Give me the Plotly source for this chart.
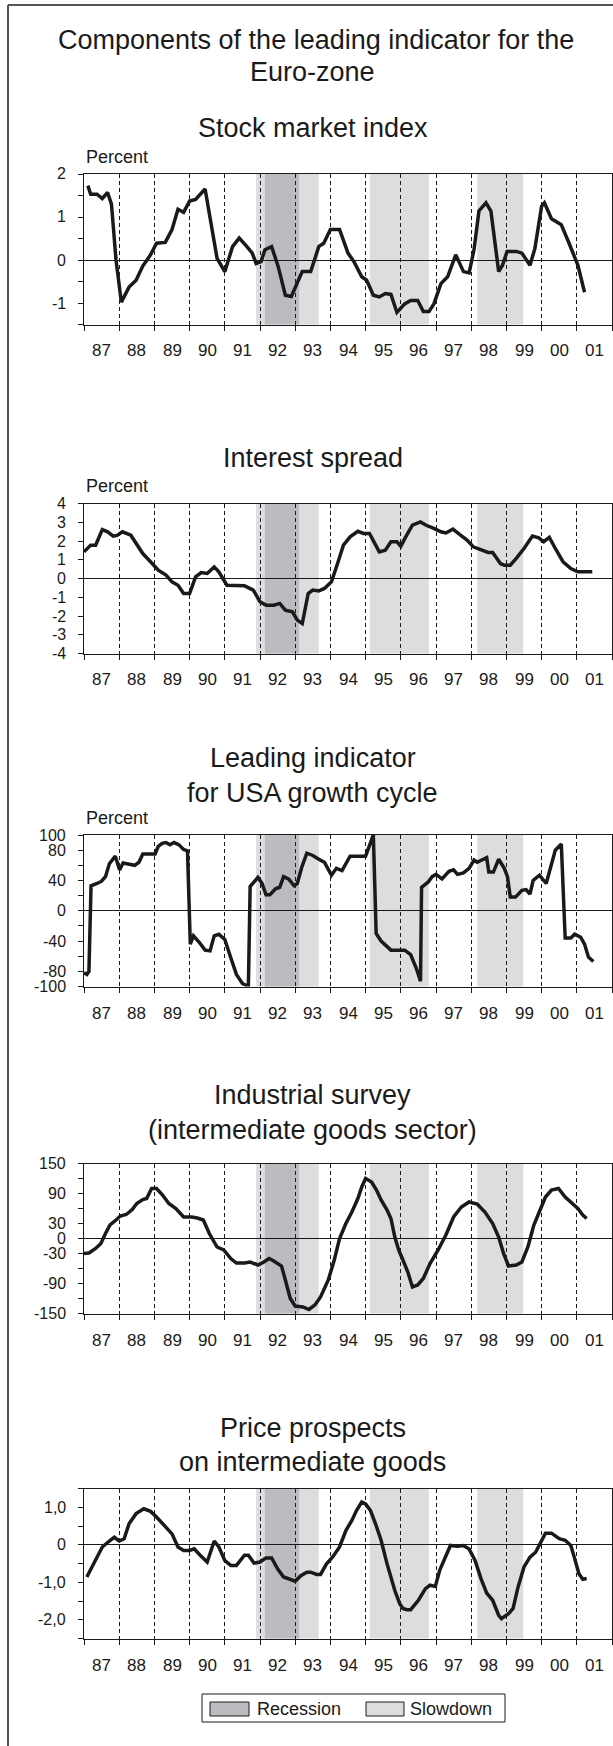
import plotly.graph_objects as go

# ── Page geometry / palette ────────────────────────────────────────────────
W, H = 613, 1746
FONT = "Liberation Sans, Arial, sans-serif"
INK = "#1a1a1a"
FRAME = "#555555"
RECESSION_FILL = "#bbbcbf"
SLOWDOWN_FILL = "#dcdddf"

# ── Data ───────────────────────────────────────────────────────────────────
YEARS = list(range(1987, 2003))
YEAR_MIDS = [y + 0.5 for y in range(1987, 2002)]
YEAR_LABELS = ["87", "88", "89", "90", "91", "92", "93", "94", "95", "96",
               "97", "98", "99", "00", "01"]

SLOWDOWNS = [(1991.89, 1993.67), (1995.12, 1996.8), (1998.17, 1999.48)]
RECESSIONS = [(1992.14, 1993.11)]

stock_x = [1987.11, 1987.19, 1987.37, 1987.52, 1987.67, 1987.78, 1987.91, 1988.06,
           1988.28, 1988.48, 1988.67, 1988.89, 1989.06, 1989.31, 1989.5, 1989.67,
           1989.83, 1990.0, 1990.17, 1990.44, 1990.78, 1991.0, 1991.22, 1991.41,
           1991.61, 1991.78, 1991.89, 1992.03, 1992.14, 1992.33, 1992.52, 1992.72,
           1992.89, 1993.06, 1993.2, 1993.44, 1993.67, 1993.81, 1994.0, 1994.26,
           1994.5, 1994.67, 1994.89, 1995.03, 1995.22, 1995.39, 1995.56, 1995.72,
           1995.89, 1996.11, 1996.28, 1996.48, 1996.64, 1996.8, 1996.94, 1997.14,
           1997.33, 1997.56, 1997.78, 1997.94, 1998.08, 1998.22, 1998.42, 1998.56,
           1998.78, 1998.89, 1999.02, 1999.28, 1999.44, 1999.67, 1999.81, 2000.0,
           2000.08, 2000.28, 2000.56, 2000.78, 2001.03, 2001.22]
stock_y = [1.73, 1.53, 1.53, 1.43, 1.57, 1.3, 0.0, -0.98, -0.63, -0.47,
           -0.14, 0.12, 0.39, 0.41, 0.71, 1.18, 1.11, 1.37, 1.41, 1.65,
           0.04, -0.27, 0.31, 0.51, 0.33, 0.16, -0.08, -0.04, 0.24, 0.31,
           -0.16, -0.82, -0.85, -0.55, -0.27, -0.27, 0.31, 0.39, 0.71, 0.71,
           0.16, -0.04, -0.39, -0.47, -0.82, -0.86, -0.78, -0.8, -1.22, -1.02,
           -0.94, -0.94, -1.2, -1.2, -1.02, -0.55, -0.39, 0.12, -0.27, -0.3,
           0.24, 1.14, 1.33, 1.14, -0.27, -0.12, 0.2, 0.2, 0.16, -0.12,
           0.27, 1.25, 1.33, 0.96, 0.82, 0.39, -0.12, -0.75]

spread_x = [1987.0, 1987.19, 1987.33, 1987.52, 1987.67, 1987.83, 1987.94, 1988.09,
            1988.33, 1988.5, 1988.67, 1988.89, 1989.11, 1989.33, 1989.5, 1989.67,
            1989.83, 1990.0, 1990.17, 1990.33, 1990.5, 1990.7, 1990.83, 1991.06,
            1991.28, 1991.56, 1991.81, 1992.0, 1992.17, 1992.39, 1992.56, 1992.72,
            1992.92, 1993.06, 1993.2, 1993.37, 1993.5, 1993.67, 1993.83, 1994.03,
            1994.22, 1994.37, 1994.56, 1994.78, 1994.94, 1995.11, 1995.26, 1995.39,
            1995.56, 1995.72, 1995.89, 1996.0, 1996.14, 1996.33, 1996.56, 1996.72,
            1996.94, 1997.14, 1997.28, 1997.48, 1997.67, 1997.89, 1998.06, 1998.28,
            1998.48, 1998.61, 1998.83, 1998.94, 1999.11, 1999.28, 1999.5, 1999.74,
            1999.92, 2000.06, 2000.22, 2000.39, 2000.61, 2000.83, 2001.03, 2001.44]
spread_y = [1.42, 1.78, 1.78, 2.61, 2.49, 2.26, 2.3, 2.49, 2.31, 1.78,
            1.33, 0.89, 0.44, 0.18, -0.18, -0.36, -0.8, -0.8, 0.09, 0.32,
            0.27, 0.62, 0.36, -0.36, -0.36, -0.39, -0.62, -1.24, -1.42, -1.42,
            -1.33, -1.69, -1.78, -2.22, -2.4, -0.8, -0.62, -0.66, -0.53, -0.18,
            0.89, 1.78, 2.22, 2.52, 2.4, 2.4, 1.87, 1.42, 1.51, 1.96,
            1.96, 1.72, 2.22, 2.84, 3.02, 2.84, 2.67, 2.49, 2.43, 2.63,
            2.35, 2.04, 1.69, 1.51, 1.39, 1.39, 0.8, 0.71, 0.71, 1.07,
            1.6, 2.26, 2.17, 1.96, 2.19, 1.6, 0.89, 0.53, 0.36, 0.36]

usa_x = [1987.0, 1987.08, 1987.14, 1987.2, 1987.37, 1987.5, 1987.61, 1987.72,
         1987.89, 1988.01, 1988.11, 1988.28, 1988.44, 1988.56, 1988.67, 1988.81,
         1989.02, 1989.11, 1989.22, 1989.33, 1989.44, 1989.56, 1989.7, 1989.83,
         1989.94, 1990.02, 1990.11, 1990.28, 1990.44, 1990.58, 1990.7, 1990.83,
         1991.0, 1991.17, 1991.33, 1991.5, 1991.67, 1991.72, 1991.94, 1992.06,
         1992.17, 1992.28, 1992.44, 1992.56, 1992.67, 1992.81, 1992.97, 1993.06,
         1993.19, 1993.33, 1993.5, 1993.67, 1993.83, 1994.03, 1994.17, 1994.33,
         1994.56, 1995.0, 1995.22, 1995.3, 1995.44, 1995.72, 1996.11, 1996.28,
         1996.44, 1996.56, 1996.59, 1996.78, 1996.89, 1997.0, 1997.17, 1997.37,
         1997.5, 1997.61, 1997.78, 1997.94, 1998.08, 1998.17, 1998.44, 1998.5,
         1998.63, 1998.78, 1998.94, 1999.03, 1999.11, 1999.26, 1999.44, 1999.56,
         1999.67, 1999.76, 1999.94, 2000.13, 2000.3, 2000.39, 2000.56, 2000.67,
         2000.83, 2000.94, 2001.11, 2001.22, 2001.33, 2001.47]
usa_y = [-82, -84, -80, 33, 36, 39, 45, 62, 72, 54,
         63, 62, 60, 64, 75, 75, 75, 85, 89, 90,
         87, 90, 87, 81, 79, -44, -33, -42, -52, -53,
         -33, -31, -38, -62, -84, -96, -100, 32, 44, 36,
         21, 21, 29, 31, 45, 42, 33, 36, 58, 76,
         73, 68, 64, 47, 56, 53, 72, 72, 100, -30,
         -40, -52, -52, -58, -76, -93, 31, 38, 45, 48,
         42, 52, 54, 48, 50, 56, 67, 64, 70, 51,
         51, 68, 56, 45, 18, 18, 27, 28, 22, 40,
         47, 36, 64, 80, 88, -36, -36, -31, -35, -44,
         -61, -67]

survey_x = [1987.0, 1987.14, 1987.33, 1987.48, 1987.61, 1987.74, 1987.91, 1988.03,
            1988.2, 1988.37, 1988.5, 1988.67, 1988.78, 1988.92, 1989.06, 1989.22,
            1989.41, 1989.61, 1989.83, 1990.06, 1990.22, 1990.39, 1990.56, 1990.78,
            1990.97, 1991.17, 1991.33, 1991.56, 1991.72, 1991.94, 1992.11, 1992.26,
            1992.39, 1992.61, 1992.72, 1992.86, 1993.0, 1993.22, 1993.39, 1993.56,
            1993.72, 1993.94, 1994.11, 1994.26, 1994.44, 1994.61, 1994.78, 1994.89,
            1995.0, 1995.17, 1995.31, 1995.44, 1995.61, 1995.72, 1995.83, 1995.94,
            1996.06, 1996.2, 1996.33, 1996.48, 1996.64, 1996.83, 1997.06, 1997.28,
            1997.5, 1997.72, 1997.94, 1998.17, 1998.39, 1998.61, 1998.78, 1998.92,
            1999.06, 1999.28, 1999.44, 1999.61, 1999.78, 1999.94, 2000.11, 2000.28,
            2000.48, 2000.67, 2000.83, 2001.03, 2001.17, 2001.28]
survey_y = [-30, -29, -20, -10, 10, 27, 37, 45, 48, 58,
            70, 78, 80, 100, 100, 88, 70, 60, 43, 43,
            41, 37, 10, -17, -23, -40, -49, -49, -47, -53,
            -47, -40, -45, -55, -83, -120, -135, -137, -142, -133,
            -117, -83, -43, 0, 30, 53, 80, 103, 120, 113,
            97, 77, 57, 40, 3, -23, -43, -67, -97, -93,
            -80, -50, -23, 7, 43, 63, 73, 69, 53, 30,
            3, -30, -55, -53, -47, -17, 27, 53, 83, 97,
            100, 83, 73, 60, 47, 40]

price_x = [1987.08, 1987.33, 1987.52, 1987.72, 1987.86, 1988.0, 1988.14, 1988.28,
           1988.48, 1988.7, 1988.89, 1989.06, 1989.28, 1989.5, 1989.67, 1989.83,
           1990.0, 1990.13, 1990.3, 1990.5, 1990.7, 1990.83, 1991.0, 1991.17,
           1991.33, 1991.56, 1991.67, 1991.83, 1992.0, 1992.17, 1992.33, 1992.5,
           1992.67, 1992.83, 1993.0, 1993.17, 1993.33, 1993.44, 1993.61, 1993.72,
           1993.89, 1994.06, 1994.26, 1994.44, 1994.61, 1994.74, 1994.89, 1995.0,
           1995.14, 1995.3, 1995.44, 1995.61, 1995.72, 1995.83, 1995.97, 1996.06,
           1996.17, 1996.28, 1996.5, 1996.7, 1996.83, 1996.98, 1997.11, 1997.28,
           1997.41, 1997.61, 1997.78, 1997.94, 1998.11, 1998.28, 1998.44, 1998.61,
           1998.78, 1998.86, 1999.06, 1999.19, 1999.33, 1999.5, 1999.67, 1999.83,
           2000.0, 2000.11, 2000.28, 2000.5, 2000.67, 2000.83, 2000.94, 2001.06,
           2001.17, 2001.28]
price_y = [-0.86, -0.42, -0.06, 0.1, 0.2, 0.1, 0.16, 0.56, 0.83, 0.96,
           0.89, 0.74, 0.51, 0.29, -0.06, -0.15, -0.15, -0.11, -0.28, -0.46,
           0.1, -0.06, -0.42, -0.55, -0.55, -0.28, -0.28, -0.49, -0.46, -0.35,
           -0.35, -0.64, -0.86, -0.92, -0.97, -0.82, -0.73, -0.73, -0.79, -0.79,
           -0.51, -0.33, -0.06, 0.38, 0.65, 0.91, 1.14, 1.09, 0.91, 0.51,
           0.12, -0.51, -0.91, -1.22, -1.57, -1.7, -1.73, -1.73, -1.48, -1.17,
           -1.08, -1.11, -0.67, -0.33, -0.02, -0.04, -0.02, -0.11, -0.42, -0.91,
           -1.29, -1.48, -1.88, -1.97, -1.84, -1.7, -1.13, -0.59, -0.33, -0.2,
           0.12, 0.31, 0.31, 0.16, 0.12, -0.02, -0.37, -0.77, -0.92, -0.9]

# ── Y tick definitions ─────────────────────────────────────────────────────
stock_ticks = [-1, 0, 1, 2]
stock_ticktext = ["-1", "0", "1", "2"]
stock_minor = [-1.5, -0.5, 0.5, 1.5]

spread_ticks = [-4, -3, -2, -1, 0, 1, 2, 3, 4]
spread_ticktext = ["-4", "-3", "-2", "-1", "0", "1", "2", "3", "4"]

usa_ticks = [-100, -80, -40, 0, 40, 80, 100]
usa_ticktext = ["-100", "-80", "-40", "0", "40", "80", "100"]
usa_minor = [-60, -20, 20, 60]

survey_ticks = [-150, -90, -30, 0, 30, 90, 150]
survey_ticktext = ["-150", "-90", "-30", "0", "30", "90", "150"]
survey_minor = [-120, -60, 60, 120]

price_ticks = [-2, -1, 0, 1]
price_ticktext = ["-2,0", "-1,0", "0", "1,0"]
price_minor = [-2.5, -1.5, -0.5, 0.5, 1.5]

# ── Panel layout (pixel positions on the page) ─────────────────────────────
PANELS = [
    dict(title=["Stock market index"], title_y=[128], percent_y=157,
         top=174, bottom=324.5, x=stock_x, y=stock_y, yrange=[-1.5, 2],
         ticks=stock_ticks, ticktext=stock_ticktext, minor=stock_minor),
    dict(title=["Interest spread"], title_y=[458], percent_y=486,
         top=503.5, bottom=653.5, x=spread_x, y=spread_y, yrange=[-4, 4],
         ticks=spread_ticks, ticktext=spread_ticktext, minor=[]),
    dict(title=["Leading indicator", "for USA growth cycle"], title_y=[758, 793],
         percent_y=818, top=835, bottom=986.5, x=usa_x, y=usa_y, yrange=[-100, 100],
         ticks=usa_ticks, ticktext=usa_ticktext, minor=usa_minor),
    dict(title=["Industrial survey", "(intermediate goods sector)"], title_y=[1095, 1130],
         percent_y=None, top=1163.5, bottom=1313.5, x=survey_x, y=survey_y,
         yrange=[-150, 150], ticks=survey_ticks, ticktext=survey_ticktext,
         minor=survey_minor),
    dict(title=["Price prospects", "on intermediate goods"], title_y=[1428, 1462],
         percent_y=None, top=1488.5, bottom=1638.5, x=price_x, y=price_y,
         yrange=[-2.5, 1.5], ticks=price_ticks, ticktext=price_ticktext,
         minor=price_minor),
]

PLOT_LEFT, PLOT_RIGHT = 84, 612
YLABEL_RIGHT = 68          # right edge of the y tick labels
XLABEL_GAP = 26.5          # distance from x axis to centre of year labels
TITLE_X = 313
TITLE_SIZE = 27
TICK_SIZE_X = 17
TICK_SIZE_Y = 16
SMALL_SIZE = 18


def px_x(v):
    return v / W


def px_y(v):
    return 1 - v / H


def text(label, x, y, size, xref="paper", yref="paper", xanchor="center"):
    return dict(text=label, xref=xref, yref=yref, x=x, y=y,
                xanchor=xanchor, yanchor="middle", showarrow=False,
                font=dict(family=FONT, size=size, color=INK))


fig = go.Figure()
shapes, annotations = [], []
layout_axes = {}

for i, p in enumerate(PANELS, start=1):
    s = "" if i == 1 else str(i)
    fig.add_trace(go.Scatter(
        x=p["x"], y=p["y"], mode="lines",
        line=dict(color=INK, width=3.5),
        xaxis=f"x{s}", yaxis=f"y{s}", showlegend=False, hoverinfo="skip",
    ))

    layout_axes[f"xaxis{s}"] = dict(
        domain=[px_x(PLOT_LEFT), px_x(PLOT_RIGHT)], range=[1987, 2002],
        anchor=f"y{s}", tickmode="array", tickvals=YEARS, ticks="outside",
        ticklen=5, tickcolor=INK, showticklabels=False,
        showline=True, mirror=True, linecolor=INK, linewidth=1,
        showgrid=True, gridcolor=INK, gridwidth=1, griddash="4px,3px",
        zeroline=False, fixedrange=True,
    )
    layout_axes[f"yaxis{s}"] = dict(
        domain=[px_y(p["bottom"]), px_y(p["top"])], range=p["yrange"],
        anchor=f"x{s}", tickmode="array", tickvals=p["ticks"],
        ticks="outside", ticklen=5, tickcolor=INK, showticklabels=False,
        showline=True, mirror=True, linecolor=INK, linewidth=1,
        showgrid=False, zeroline=True, zerolinecolor=INK, zerolinewidth=1,
        fixedrange=True,
        minor=dict(tickmode="array", tickvals=p["minor"], ticks="outside",
                   ticklen=5, tickcolor=INK, showgrid=False),
    )

    # cycle shading: slowdown underneath, recession on top
    for x0, x1 in SLOWDOWNS:
        shapes.append(dict(type="rect", xref=f"x{s}", yref=f"y{s} domain",
                           x0=x0, x1=x1, y0=0, y1=1, fillcolor=SLOWDOWN_FILL,
                           line_width=0, layer="below"))
    for x0, x1 in RECESSIONS:
        shapes.append(dict(type="rect", xref=f"x{s}", yref=f"y{s} domain",
                           x0=x0, x1=x1, y0=0, y1=1, fillcolor=RECESSION_FILL,
                           line_width=0, layer="below"))

    # tick labels placed through the axes' own scales
    for mid, lab in zip(YEAR_MIDS, YEAR_LABELS):
        annotations.append(text(lab, mid, px_y(p["bottom"] + XLABEL_GAP), TICK_SIZE_X,
                                xref=f"x{s}"))
    for val, lab in zip(p["ticks"], p["ticktext"]):
        annotations.append(text(lab, px_x(YLABEL_RIGHT), val, TICK_SIZE_Y,
                                yref=f"y{s}", xanchor="right"))

    for line, ty in zip(p["title"], p["title_y"]):
        annotations.append(text(line, px_x(TITLE_X), px_y(ty), TITLE_SIZE))
    if p["percent_y"] is not None:
        annotations.append(text("Percent", px_x(PLOT_LEFT), px_y(p["percent_y"]),
                                SMALL_SIZE, xanchor="left"))

# ── Main title ─────────────────────────────────────────────────────────────
annotations.append(text("Components of the leading indicator for the",
                        px_x(316), px_y(40), TITLE_SIZE))
annotations.append(text("Euro-zone", px_x(TITLE_X), px_y(72), TITLE_SIZE))

# ── Outer frame (left and top edges) ───────────────────────────────────────
shapes.append(dict(type="line", xref="paper", yref="paper",
                   x0=px_x(8), x1=px_x(8), y0=px_y(5), y1=0,
                   line=dict(color=FRAME, width=2)))
shapes.append(dict(type="line", xref="paper", yref="paper",
                   x0=px_x(8), x1=1, y0=px_y(5), y1=px_y(5),
                   line=dict(color=FRAME, width=2)))

# ── Legend (drawn by hand) ─────────────────────────────────────────────────
shapes.append(dict(type="rect", xref="paper", yref="paper",
                   x0=px_x(202), x1=px_x(505), y0=px_y(1722), y1=px_y(1694),
                   line=dict(color=INK, width=1), fillcolor="white"))
for label, fill, sx0, sx1, tx in [("Recession", RECESSION_FILL, 210, 249, 255),
                                  ("Slowdown", SLOWDOWN_FILL, 366, 404, 408)]:
    shapes.append(dict(type="rect", xref="paper", yref="paper",
                       x0=px_x(sx0), x1=px_x(sx1), y0=px_y(1716), y1=px_y(1702),
                       line=dict(color=INK, width=1), fillcolor=fill))
    annotations.append(text(label, px_x(tx), px_y(1708.5), SMALL_SIZE, xanchor="left"))

fig.update_layout(
    width=W, height=H,
    margin=dict(l=0, r=0, t=0, b=0),
    paper_bgcolor="white", plot_bgcolor="white",
    font=dict(family=FONT, color=INK),
    showlegend=False,
    shapes=shapes, annotations=annotations,
    **layout_axes,
)

# page has a default 8px body margin; drop it so the figure sits at the origin
fig.write_html(
    "out.html",
    config={"displayModeBar": False},
    post_script="document.body.style.margin='0';document.body.style.overflow='hidden';",
)
